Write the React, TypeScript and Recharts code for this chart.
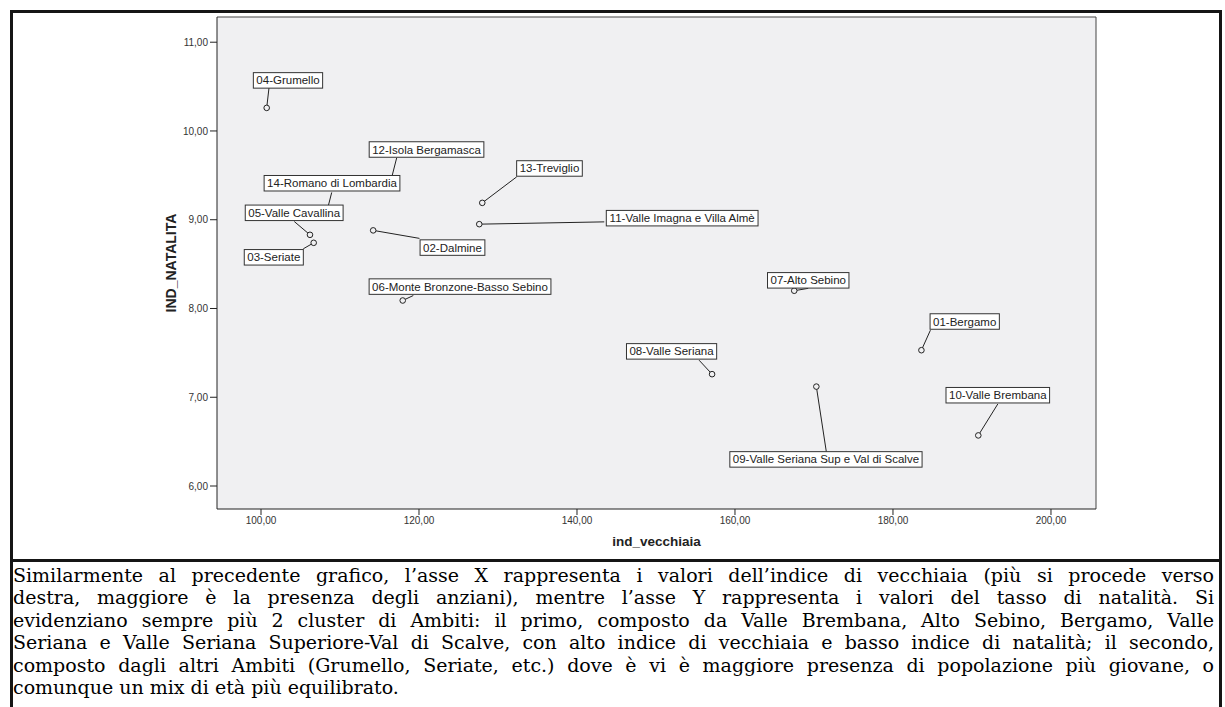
import { CartesianGrid, ReferenceLine, Scatter, ScatterChart, XAxis, YAxis } from "recharts";

const ambiti = [
  "01-Bergamo",
  "02-Dalmine",
  "03-Seriate",
  "04-Grumello",
  "05-Valle Cavallina",
  "06-Monte Bronzone-Basso Sebino",
  "07-Alto Sebino",
  "08-Valle Seriana",
  "09-Valle Seriana Sup e Val di Scalve",
  "10-Valle Brembana",
  "11-Valle Imagna e Villa Almè",
  "12-Isola Bergamasca",
  "13-Treviglio",
  "14-Romano di Lombardia",
];
const indVecchiaia = [183.6, 114.2, 106.67, 100.72, 106.2, 117.94, 167.5, 157.1, 170.3, 190.8, 127.63, 116.27, 128.01, 108.33];
const indNatalita = [7.53, 8.88, 8.74, 10.26, 8.83, 8.09, 8.2, 7.26, 7.12, 6.57, 8.95, 9.38, 9.19, 9.09];
const xTicks = [100, 120, 140, 160, 180, 200];
const yTicks = [6, 7, 8, 9, 10, 11];

// where each label box sits: box centre (dx, dy) and leader end (lx, ly), px from the point
const labelPlacement = [
  [43.3, -28.7, 9, -20],
  [79.3, 17.2, 46.3, 8],
  [-39.9, 14.5, -10.4, 6],
  [21.3, -27.5, 2.3, -20],
  [-15.8, -22, -15.7, -13.3],
  [57.3, -13.9, 10.6, -5],
  [14, -10.4, 14, -2.4],
  [-40.5, -22.8, -13, -14],
  [9.6, 72.8, 10, 65.3],
  [19.5, -40.2, 19.5, -31.4],
  [202.9, -6, 125, -2.3],
  [37, -36.5, 7.2, -28.3],
  [67.2, -34.4, 34.4, -26],
  [5.2, -28.5, 4.9, -19.3],
];

const paragraph = [
  "Similarmente al precedente grafico, l’asse X rappresenta i valori dell’indice di vecchiaia (più si procede verso",
  "destra, maggiore è la presenza degli anziani), mentre l’asse Y rappresenta i valori del tasso di natalità. Si",
  "evidenziano sempre più 2 cluster di Ambiti: il primo, composto da Valle Brembana, Alto Sebino, Bergamo, Valle",
  "Seriana e Valle Seriana Superiore-Val di Scalve, con alto indice di vecchiaia e basso indice di natalità; il secondo,",
  "composto dagli altri Ambiti (Grumello, Seriate, etc.) dove è vi è maggiore presenza di popolazione più giovane, o",
  "comunque un mix di età più equilibrato.",
];

const X_DOMAIN: [number, number] = [94.43, 205.7];
const Y_DOMAIN: [number, number] = [5.741, 11.284];
const SANS = "'Liberation Sans', Arial, sans-serif";
const LABEL_FONT = 11.5;

const points = ambiti.map((name, i) => ({ name, x: indVecchiaia[i], y: indNatalita[i], i }));

const fmt = (v: number) => v.toFixed(2).replace(".", ",");

let ctx: CanvasRenderingContext2D | null = null;
function textWidth(s: string) {
  if (!ctx) ctx = document.createElement("canvas").getContext("2d");
  if (!ctx) return s.length * 6;
  ctx.font = `${LABEL_FONT}px 'Liberation Sans'`;
  return ctx.measureText(s).width;
}

function PointMark(props: any) {
  const { cx, cy, payload } = props;
  const [, , lx, ly] = labelPlacement[payload.i];
  return (
    <g>
      <line x1={cx} y1={cy} x2={cx + lx} y2={cy + ly} stroke="#222" strokeWidth={1} />
      <circle cx={cx} cy={cy} r={2.8} fill="#f0f0f2" stroke="#222" strokeWidth={1} />
    </g>
  );
}

function LabelBox(props: any) {
  const { cx, cy, payload } = props;
  const [dx, dy] = labelPlacement[payload.i];
  const w = textWidth(payload.name) + 6;
  const h = 15.5;
  const bx = cx + dx;
  const by = cy + dy;
  return (
    <g>
      <rect x={bx - w / 2} y={by - h / 2} width={w} height={h} fill="#fff" stroke="#333" strokeWidth={1} />
      <text
        x={bx}
        y={by}
        textAnchor="middle"
        dominantBaseline="central"
        fontSize={LABEL_FONT}
        fontFamily={SANS}
        fill="#222"
      >
        {payload.name}
      </text>
    </g>
  );
}

export default function App() {
  return (
    <div style={{ position: "absolute", left: 0, top: 0, width: 1225, height: 707, background: "#fff", overflow: "hidden" }}>
      <div
        style={{
          position: "absolute",
          left: 10,
          top: 10,
          width: 1206,
          height: 720,
          border: "3px solid #151515",
        }}
      />
      <div style={{ position: "absolute", left: 10, top: 558.5, width: 1212, height: 3, background: "#151515" }} />

      <div style={{ position: "absolute", left: 0, top: 0 }}>
        <ScatterChart width={1225} height={560} margin={{ top: 17, right: 129, bottom: 11, left: 157 }}>
          <CartesianGrid horizontal={false} vertical={false} fill="#f0f0f2" />
          <XAxis
            type="number"
            dataKey="x"
            domain={X_DOMAIN}
            allowDataOverflow
            ticks={xTicks}
            tickFormatter={fmt}
            height={40}
            tickSize={6}
            stroke="#222"
            tick={{ fill: "#333", fontSize: 10, fontFamily: SANS }}
            label={{
              value: "ind_vecchiaia",
              position: "insideBottom",
              offset: 3,
              style: { fontWeight: "bold", fontSize: 13.5, fontFamily: SANS, fill: "#222" },
            }}
          />
          <YAxis
            type="number"
            dataKey="y"
            domain={Y_DOMAIN}
            allowDataOverflow
            ticks={yTicks}
            tickFormatter={fmt}
            width={60}
            tickSize={7}
            stroke="#222"
            tick={{ fill: "#333", fontSize: 10, fontFamily: SANS }}
            label={{
              value: "IND_NATALITA",
              angle: -90,
              position: "insideLeft",
              offset: 14,
              style: { fontWeight: "bold", fontSize: 14, fontFamily: SANS, fill: "#222", textAnchor: "middle" },
            }}
          />
          <ReferenceLine y={Y_DOMAIN[1]} stroke="#444" strokeWidth={1} />
          <ReferenceLine x={X_DOMAIN[1]} stroke="#444" strokeWidth={1} />
          <Scatter data={points} shape={PointMark} isAnimationActive={false} />
          <Scatter data={points} shape={LabelBox} isAnimationActive={false} />
        </ScatterChart>
      </div>

      <div
        style={{
          position: "absolute",
          left: 13,
          top: 564,
          width: 1201,
          fontFamily: "'DejaVu Serif', serif",
          fontSize: 19,
          color: "#000",
        }}
      >
        {paragraph.map((line, i) => (
          <div
            key={i}
            style={{
              height: 22.4,
              lineHeight: "22.4px",
              textAlign: i === paragraph.length - 1 ? "left" : "justify",
              textAlignLast: i === paragraph.length - 1 ? "left" : "justify",
              whiteSpace: "nowrap",
            }}
          >
            {line}
          </div>
        ))}
      </div>
    </div>
  );
}
